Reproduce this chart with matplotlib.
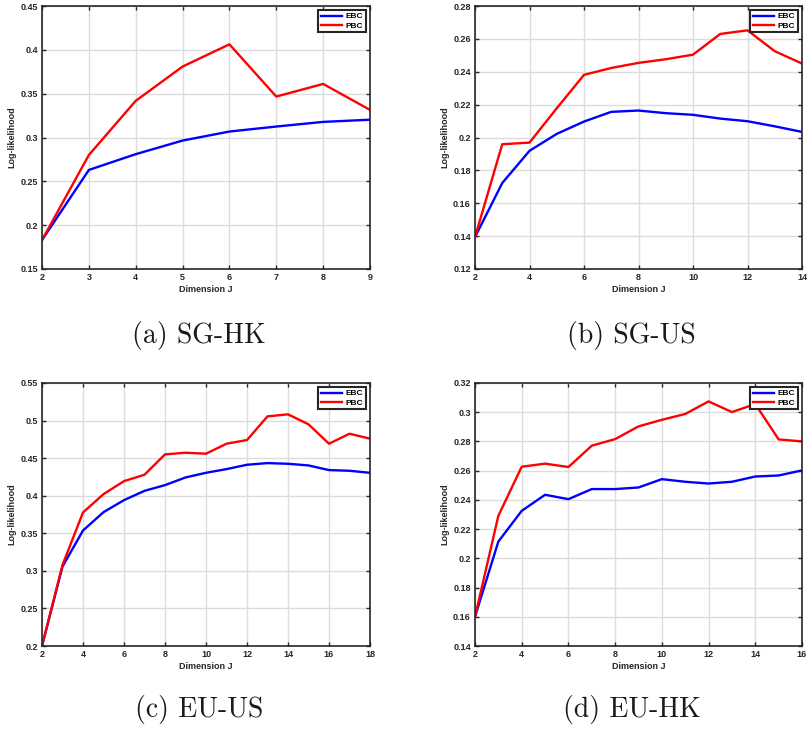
import matplotlib
matplotlib.use("Agg")
import matplotlib.pyplot as plt
from matplotlib.font_manager import FontProperties

W, H = 807, 736

# Dimension J values per panel
dims_a = [2, 3, 4, 5, 6, 7, 8, 9]
ebc_a = [0.183, 0.263, 0.281, 0.2965, 0.3068, 0.3125, 0.3178, 0.3203]
pbc_a = [0.183, 0.280, 0.3418, 0.3809, 0.4063, 0.3467, 0.3611, 0.3315]

dims_b = list(range(2, 15))
ebc_b = [0.1394, 0.1723, 0.1919, 0.2022, 0.2097, 0.2156, 0.2164, 0.2148,
         0.2138, 0.2115, 0.2099, 0.2068, 0.2034]
pbc_b = [0.1394, 0.1959, 0.1969, 0.2178, 0.2381, 0.2423, 0.2454, 0.2476,
         0.2504, 0.2630, 0.2652, 0.2525, 0.2450]

dims_c = list(range(2, 19))
ebc_c = [0.200, 0.3057, 0.3537, 0.3781, 0.3941, 0.4065, 0.4141, 0.4243,
         0.4305, 0.4354, 0.4412, 0.4434, 0.4425, 0.4403, 0.4341, 0.4332, 0.4305]
pbc_c = [0.200, 0.3079, 0.3777, 0.4021, 0.4194, 0.4279, 0.4550, 0.4572,
         0.4559, 0.4692, 0.4741, 0.5056, 0.5083, 0.4950, 0.4692, 0.4825, 0.4759]

dims_d = list(range(2, 17))
ebc_d = [0.160, 0.2115, 0.2325, 0.2435, 0.2405, 0.2474, 0.2474, 0.2485,
         0.2542, 0.2524, 0.2512, 0.2524, 0.2560, 0.2567, 0.2602]
pbc_d = [0.160, 0.2291, 0.2627, 0.2648, 0.2625, 0.2771, 0.2816, 0.2903,
         0.2948, 0.2988, 0.3074, 0.3001, 0.3056, 0.2814, 0.2800]

captions = ["(a) SG-HK", "(b) SG-US", "(c) EU-US", "(d) EU-HK"]

panels = [
    dict(x=dims_a, e=ebc_a, p=pbc_a, xlim=(2, 9), xt=list(range(2, 10)),
         ylim=(0.15, 0.45), yt=[0.15, 0.2, 0.25, 0.3, 0.35, 0.4, 0.45],
         ytl=["0.15", "0.2", "0.25", "0.3", "0.35", "0.4", "0.45"],
         box=(42, 6, 370, 269)),
    dict(x=dims_b, e=ebc_b, p=pbc_b, xlim=(2, 14), xt=list(range(2, 15, 2)),
         ylim=(0.12, 0.28), yt=[0.12, 0.14, 0.16, 0.18, 0.2, 0.22, 0.24, 0.26, 0.28],
         ytl=["0.12", "0.14", "0.16", "0.18", "0.2", "0.22", "0.24", "0.26", "0.28"],
         box=(475, 6, 802, 269)),
    dict(x=dims_c, e=ebc_c, p=pbc_c, xlim=(2, 18), xt=list(range(2, 19, 2)),
         ylim=(0.2, 0.55), yt=[0.2, 0.25, 0.3, 0.35, 0.4, 0.45, 0.5, 0.55],
         ytl=["0.2", "0.25", "0.3", "0.35", "0.4", "0.45", "0.5", "0.55"],
         box=(42, 383, 370, 646)),
    dict(x=dims_d, e=ebc_d, p=pbc_d, xlim=(2, 16), xt=list(range(2, 17, 2)),
         ylim=(0.14, 0.32), yt=[0.14, 0.16, 0.18, 0.2, 0.22, 0.24, 0.26, 0.28, 0.3, 0.32],
         ytl=["0.14", "0.16", "0.18", "0.2", "0.22", "0.24", "0.26", "0.28", "0.3", "0.32"],
         box=(475, 383, 802, 646)),
]

fig = plt.figure(figsize=(W / 100, H / 100), dpi=100)
fig.patch.set_facecolor("white")

lab_font = dict(family="Liberation Sans", weight="bold", size=6.5, color="#262626")
tick_fp = FontProperties(family="Liberation Sans", weight="bold", size=6.5)

for i, pn in enumerate(panels):
    x0, y0, x1, y1 = pn["box"]
    ax = fig.add_axes([x0 / W, 1 - y1 / H, (x1 - x0) / W, (y1 - y0) / H])
    ax.plot(pn["x"], pn["e"], color="#0000ff", lw=1.7, label="EBC")
    ax.plot(pn["x"], pn["p"], color="#ff0000", lw=1.7, label="PBC")
    ax.set_xlim(*pn["xlim"])
    ax.set_ylim(*pn["ylim"])
    ax.set_xticks(pn["xt"])
    ax.set_yticks(pn["yt"])
    ax.set_yticklabels(pn["ytl"])
    ax.grid(True, color="#dcdcdc", lw=1.0)
    ax.set_axisbelow(True)
    for s in ax.spines.values():
        s.set_color("#262626")
        s.set_linewidth(1.2)
    ax.tick_params(direction="in", top=True, right=True, length=3, width=1.0,
                   color="#262626", pad=3)
    for t in ax.get_xticklabels() + ax.get_yticklabels():
        t.set_fontproperties(tick_fp)
        t.set_color("#262626")
    ax.set_ylabel("Log-likelihood", fontdict=lab_font, labelpad=3)
    ax.set_xlabel("Dimension J", fontdict=lab_font, labelpad=2)
    leg = ax.legend(loc="upper right", handlelength=2.6,
                    borderpad=0.3, labelspacing=0.15, handletextpad=0.4,
                    borderaxespad=0.5, fancybox=False,
                    prop=dict(family="Liberation Sans", weight="bold", size=6))
    leg.get_frame().set_edgecolor("#262626")
    leg.get_frame().set_linewidth(1.5)
    leg.get_frame().set_alpha(1)

    cx = (x0 + x1) / 2 - 7
    cy = 336 if i < 2 else 710
    fig.text(cx / W, 1 - cy / H, captions[i], ha="center", va="center",
             family="cmr10", fontsize=20, color="#1a1a1a")

fig.savefig("out.png", dpi=100)
